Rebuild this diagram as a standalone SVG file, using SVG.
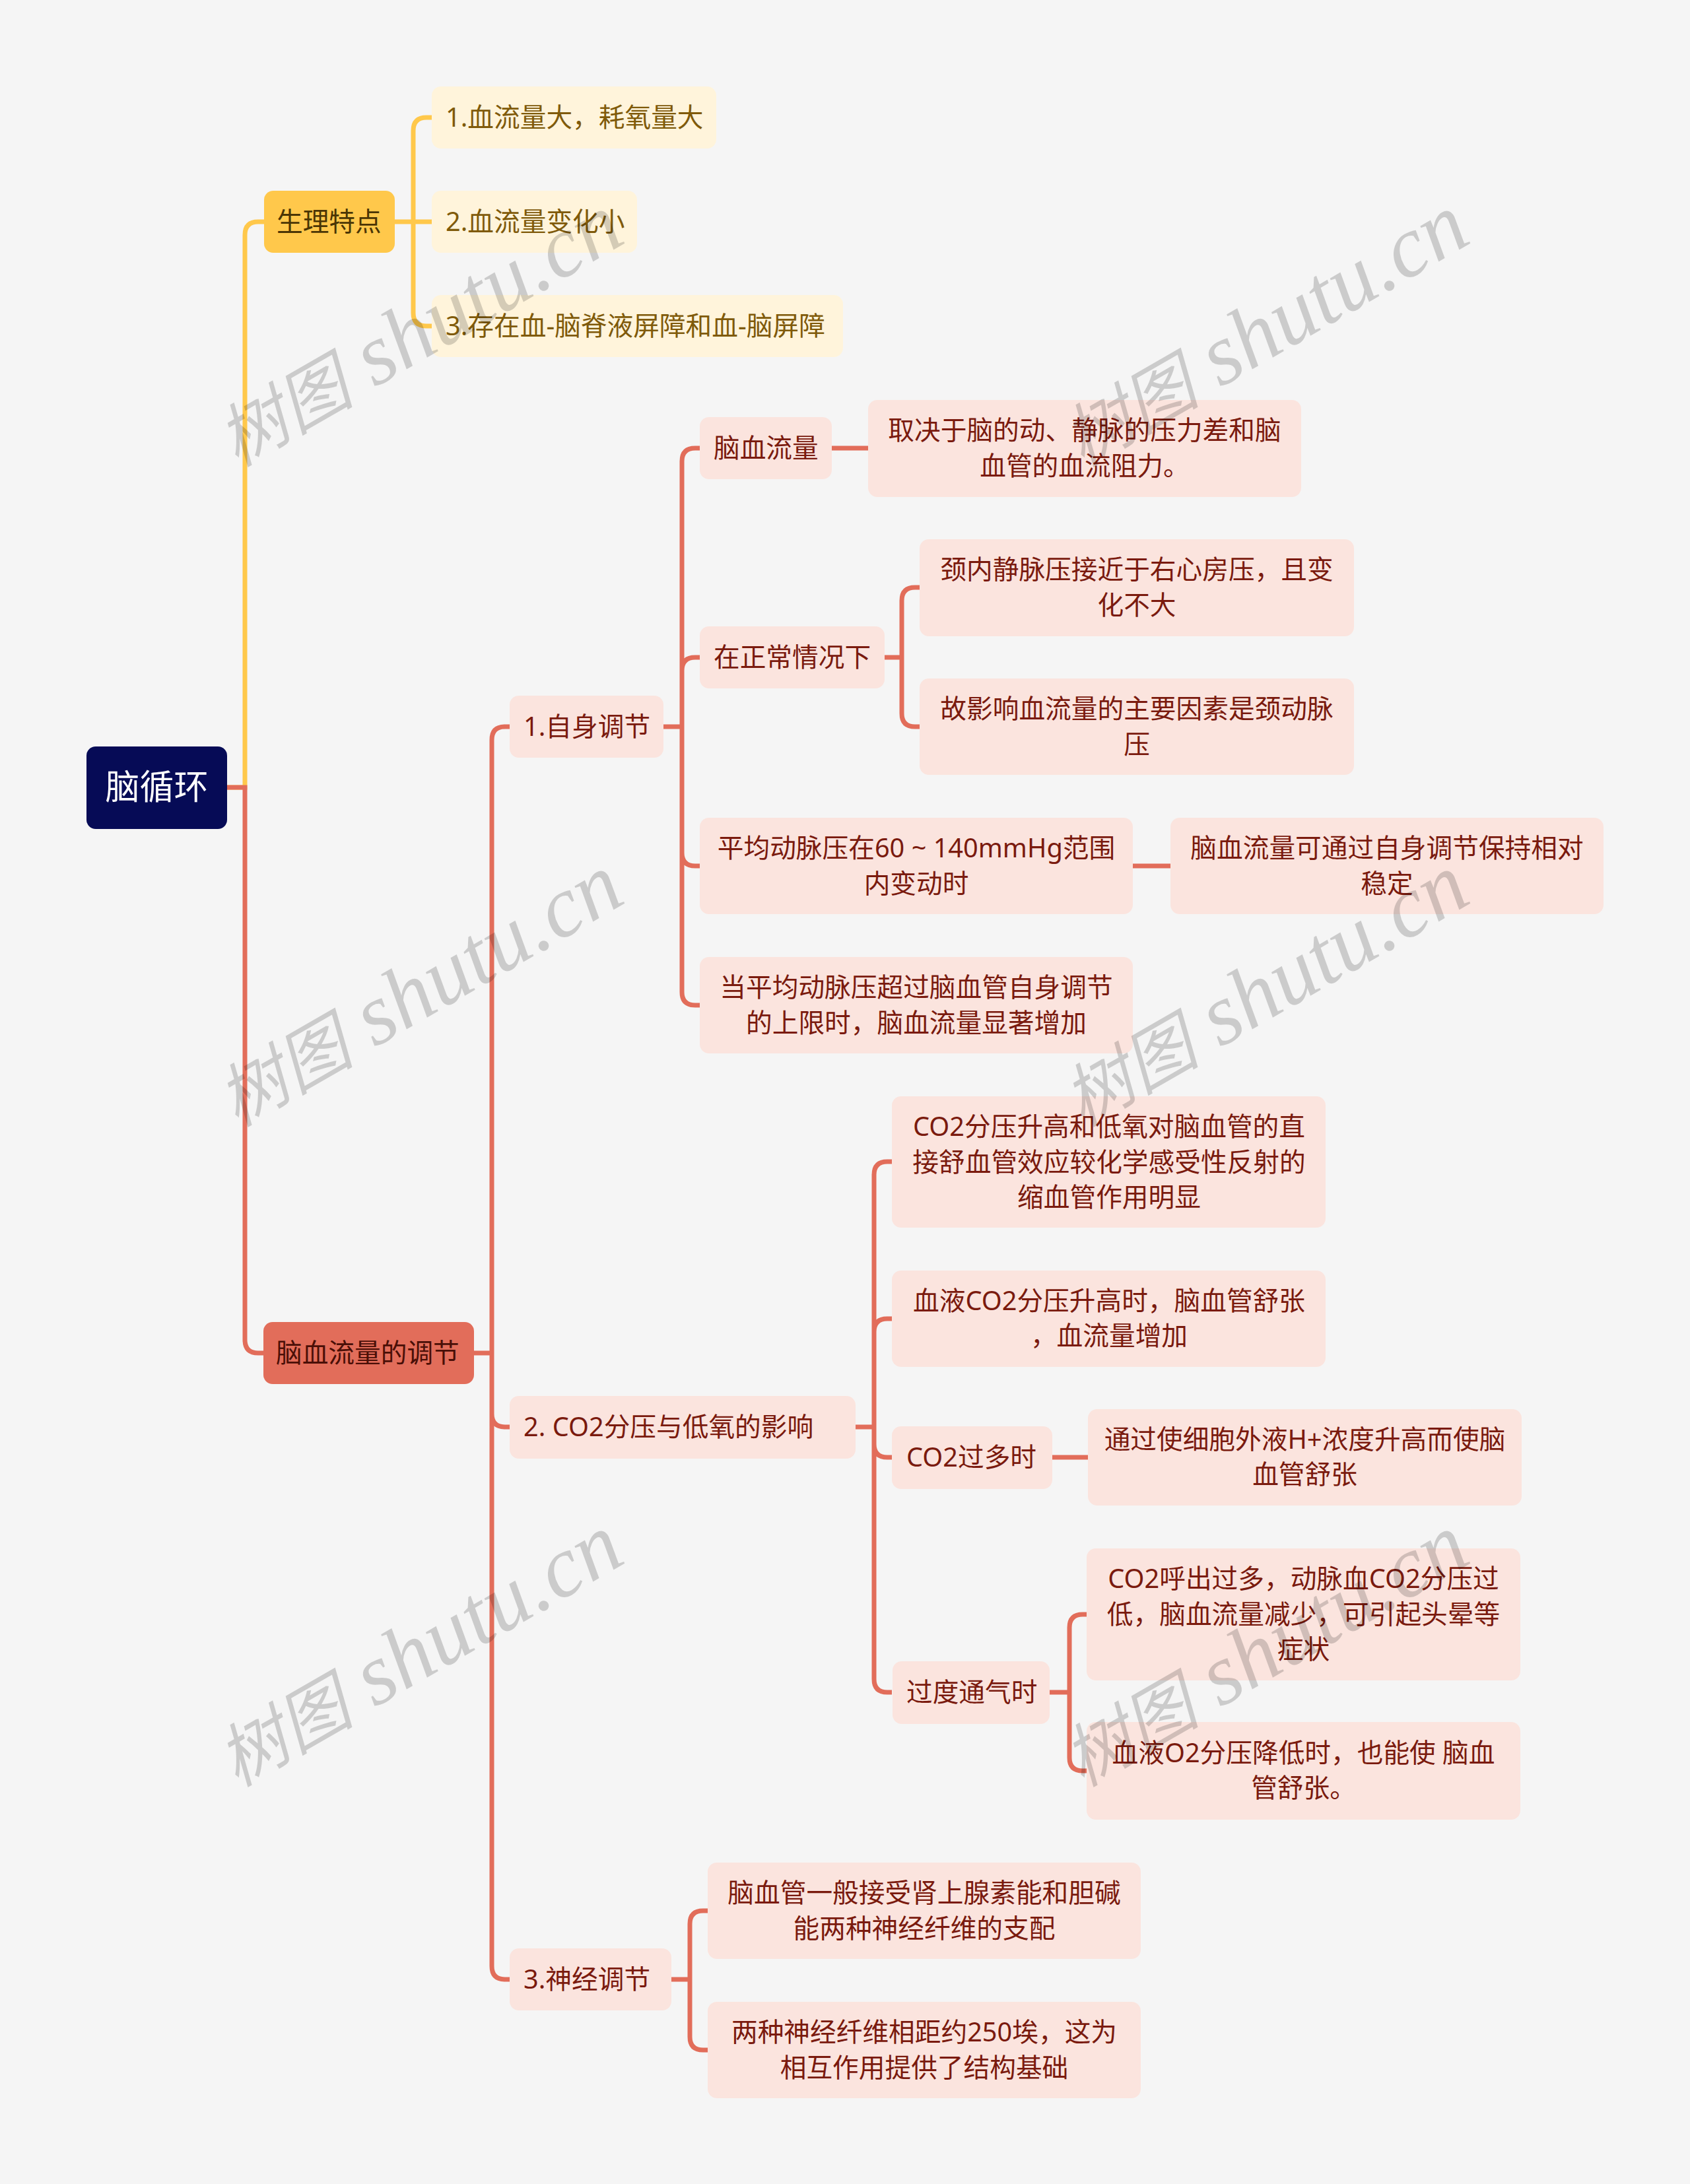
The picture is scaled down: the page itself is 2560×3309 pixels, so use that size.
<svg xmlns="http://www.w3.org/2000/svg" width="2560" height="3309" viewBox="0 0 2560 3309">
<style>
text{font-family:"Noto Sans","Noto Sans CJK SC",sans-serif;font-size:39.700px;text-anchor:middle}
text.l{text-anchor:start}
.y rect{fill:#FFF4DB}.y text{fill:#7F5A0A}
.r rect{fill:#FBE4DE}.r text{fill:#7A1A0E}
.c{fill:none;stroke-width:7}
.cy{stroke:#FFC84B}.cr{stroke:#E26D5A}
.wm text{font-family:"Liberation Serif","Noto Sans CJK SC",serif;font-style:italic;font-size:132px;fill:#000;fill-opacity:.17}
.wm tspan{font-size:104px}
</style>
<rect width="2560" height="3309" fill="#F5F5F5"/>
<g id="connectors">
<path class="c cy" d="M344 1193H371V356Q371 336 391 336H400"/>
<path class="c cy" d="M598 336H654M626 336V198Q626 178 646 178H654M626 336V474Q626 494 646 494H654"/>
<path class="c cr" d="M344 1193H371V2030Q371 2050 391 2050H400"/>
<path class="c cr" d="M718 2050H745M745 2050V1121Q745 1101 765 1101H772M745 2050V2142Q745 2162 765 2162H772M745 2050V2979Q745 2999 765 2999H772"/>
<path class="c cr" d="M1005 1101H1033M1033 1101V699Q1033 679 1053 679H1060M1033 1101V1016Q1033 996 1053 996H1060M1033 1101V1292Q1033 1312 1053 1312H1060M1033 1101V1503Q1033 1523 1053 1523H1060"/>
<path class="c cr" d="M1260 679H1315M1716 1312H1773M1594 2208H1648"/>
<path class="c cr" d="M1340 996H1366M1366 996V910Q1366 890 1386 890H1393M1366 996V1081Q1366 1101 1386 1101H1393"/>
<path class="c cr" d="M1296 2162H1324M1324 2162V1780Q1324 1760 1344 1760H1351M1324 2162V2018Q1324 1998 1344 1998H1351M1324 2162V2188Q1324 2208 1344 2208H1351M1324 2162V2544Q1324 2564 1344 2564H1351"/>
<path class="c cr" d="M1590 2564H1620M1620 2564V2466Q1620 2446 1640 2446H1646M1620 2564V2663Q1620 2683 1640 2683H1646"/>
<path class="c cr" d="M1017 2999H1045M1045 2999V2915Q1045 2895 1065 2895H1072M1045 2999V3086Q1045 3106 1065 3106H1072"/>
</g>
<g id="root"><rect x="131" y="1131" width="213" height="125" rx="14" fill="#060B56"/><text x="237.500" y="1211" fill="#fff" style="font-size:52px">脑循环</text></g>
<g id="n1"><rect x="400" y="289" width="198" height="94" rx="14" fill="#FFC84B"/><text class="l" x="419" y="350" fill="#4A3505">生理特点</text></g>
<g id="n2" class="y"><rect x="654" y="131" width="431" height="94" rx="14"/><text class="l" x="675" y="192">1.血流量大，耗氧量大</text></g>
<g id="n3" class="y"><rect x="654" y="289" width="311" height="94" rx="14"/><text class="l" x="675" y="350">2.血流量变化小</text></g>
<g id="n4" class="y"><rect x="654" y="447" width="623" height="94" rx="14"/><text class="l" x="675" y="508">3.存在血-脑脊液屏障和血-脑屏障</text></g>
<g id="n5"><rect x="399" y="2003" width="319" height="94" rx="14" fill="#E26D5A"/><text class="l" x="418" y="2064" fill="#4A0F07">脑血流量的调节</text></g>
<g id="n6" class="r"><rect x="772" y="1054" width="233" height="94" rx="14"/><text class="l" x="793" y="1115">1.自身调节</text></g>
<g id="n7" class="r"><rect x="772" y="2115" width="524" height="95" rx="14"/><text class="l" x="793" y="2176">2. CO2分压与低氧的影响</text></g>
<g id="n8" class="r"><rect x="772" y="2952" width="245" height="94" rx="14"/><text class="l" x="793" y="3013">3.神经调节</text></g>
<g id="n9" class="r"><rect x="1060" y="632" width="200" height="94" rx="14"/><text class="l" x="1081" y="693">脑血流量</text></g>
<g id="n10" class="r"><rect x="1315" y="606" width="656" height="147" rx="14"/><text x="1643" y="666">取决于脑的动、静脉的压力差和脑</text><text x="1643" y="720">血管的血流阻力。</text></g>
<g id="n11" class="r"><rect x="1060" y="949" width="280" height="94" rx="14"/><text class="l" x="1081" y="1010">在正常情况下</text></g>
<g id="n12" class="r"><rect x="1393" y="817" width="658" height="147" rx="14"/><text x="1722" y="877">颈内静脉压接近于右心房压，且变</text><text x="1722" y="931">化不大</text></g>
<g id="n13" class="r"><rect x="1393" y="1028" width="658" height="146" rx="14"/><text x="1722" y="1088">故影响血流量的主要因素是颈动脉</text><text x="1722" y="1142">压</text></g>
<g id="n14" class="r"><rect x="1060" y="1239" width="656" height="146" rx="14"/><text x="1388" y="1299">平均动脉压在60 ~ 140mmHg范围</text><text x="1388" y="1353">内变动时</text></g>
<g id="n15" class="r"><rect x="1773" y="1239" width="656" height="146" rx="14"/><text x="2101" y="1299">脑血流量可通过自身调节保持相对</text><text x="2101" y="1353">稳定</text></g>
<g id="n16" class="r"><rect x="1060" y="1450" width="656" height="146" rx="14"/><text x="1388" y="1510">当平均动脉压超过脑血管自身调节</text><text x="1388" y="1564">的上限时，脑血流量显著增加</text></g>
<g id="n17" class="r"><rect x="1351" y="1661" width="657" height="199" rx="14"/><text x="1680" y="1721">CO2分压升高和低氧对脑血管的直</text><text x="1680" y="1775">接舒血管效应较化学感受性反射的</text><text x="1680" y="1828">缩血管作用明显</text></g>
<g id="n18" class="r"><rect x="1351" y="1925" width="657" height="146" rx="14"/><text x="1680" y="1985">血液CO2分压升高时，脑血管舒张</text><text x="1680" y="2038">，血流量增加</text></g>
<g id="n19" class="r"><rect x="1351" y="2161" width="243" height="95" rx="14"/><text class="l" x="1373" y="2222">CO2过多时</text></g>
<g id="n20" class="r"><rect x="1648" y="2135" width="657" height="146" rx="14"/><text x="1976.500" y="2195">通过使细胞外液H+浓度升高而使脑</text><text x="1976.500" y="2248">血管舒张</text></g>
<g id="n21" class="r"><rect x="1352" y="2517" width="238" height="95" rx="14"/><text class="l" x="1373" y="2578">过度通气时</text></g>
<g id="n22" class="r"><rect x="1646" y="2346" width="657" height="200" rx="14"/><text x="1974.500" y="2406">CO2呼出过多，动脉血CO2分压过</text><text x="1974.500" y="2460">低，脑血流量减少，可引起头晕等</text><text x="1974.500" y="2513">症状</text></g>
<g id="n23" class="r"><rect x="1646" y="2609" width="657" height="148" rx="14"/><text x="1974.500" y="2670">血液O2分压降低时，也能使 脑血</text><text x="1974.500" y="2723">管舒张。</text></g>
<g id="n24" class="r"><rect x="1072" y="2822" width="656" height="146" rx="14"/><text x="1400" y="2882">脑血管一般接受肾上腺素能和胆碱</text><text x="1400" y="2936">能两种神经纤维的支配</text></g>
<g id="n25" class="r"><rect x="1072" y="3033" width="656" height="146" rx="14"/><text x="1400" y="3093">两种神经纤维相距约250埃，这为</text><text x="1400" y="3147">相互作用提供了结构基础</text></g>
<g class="wm">
<text transform="translate(655 537) rotate(-30)"><tspan>树图</tspan> shutu.cn</text>
<text transform="translate(1936 537) rotate(-30)"><tspan>树图</tspan> shutu.cn</text>
<text transform="translate(655 1537) rotate(-30)"><tspan>树图</tspan> shutu.cn</text>
<text transform="translate(1936 1537) rotate(-30)"><tspan>树图</tspan> shutu.cn</text>
<text transform="translate(655 2537) rotate(-30)"><tspan>树图</tspan> shutu.cn</text>
<text transform="translate(1936 2537) rotate(-30)"><tspan>树图</tspan> shutu.cn</text>
</g>
</svg>
